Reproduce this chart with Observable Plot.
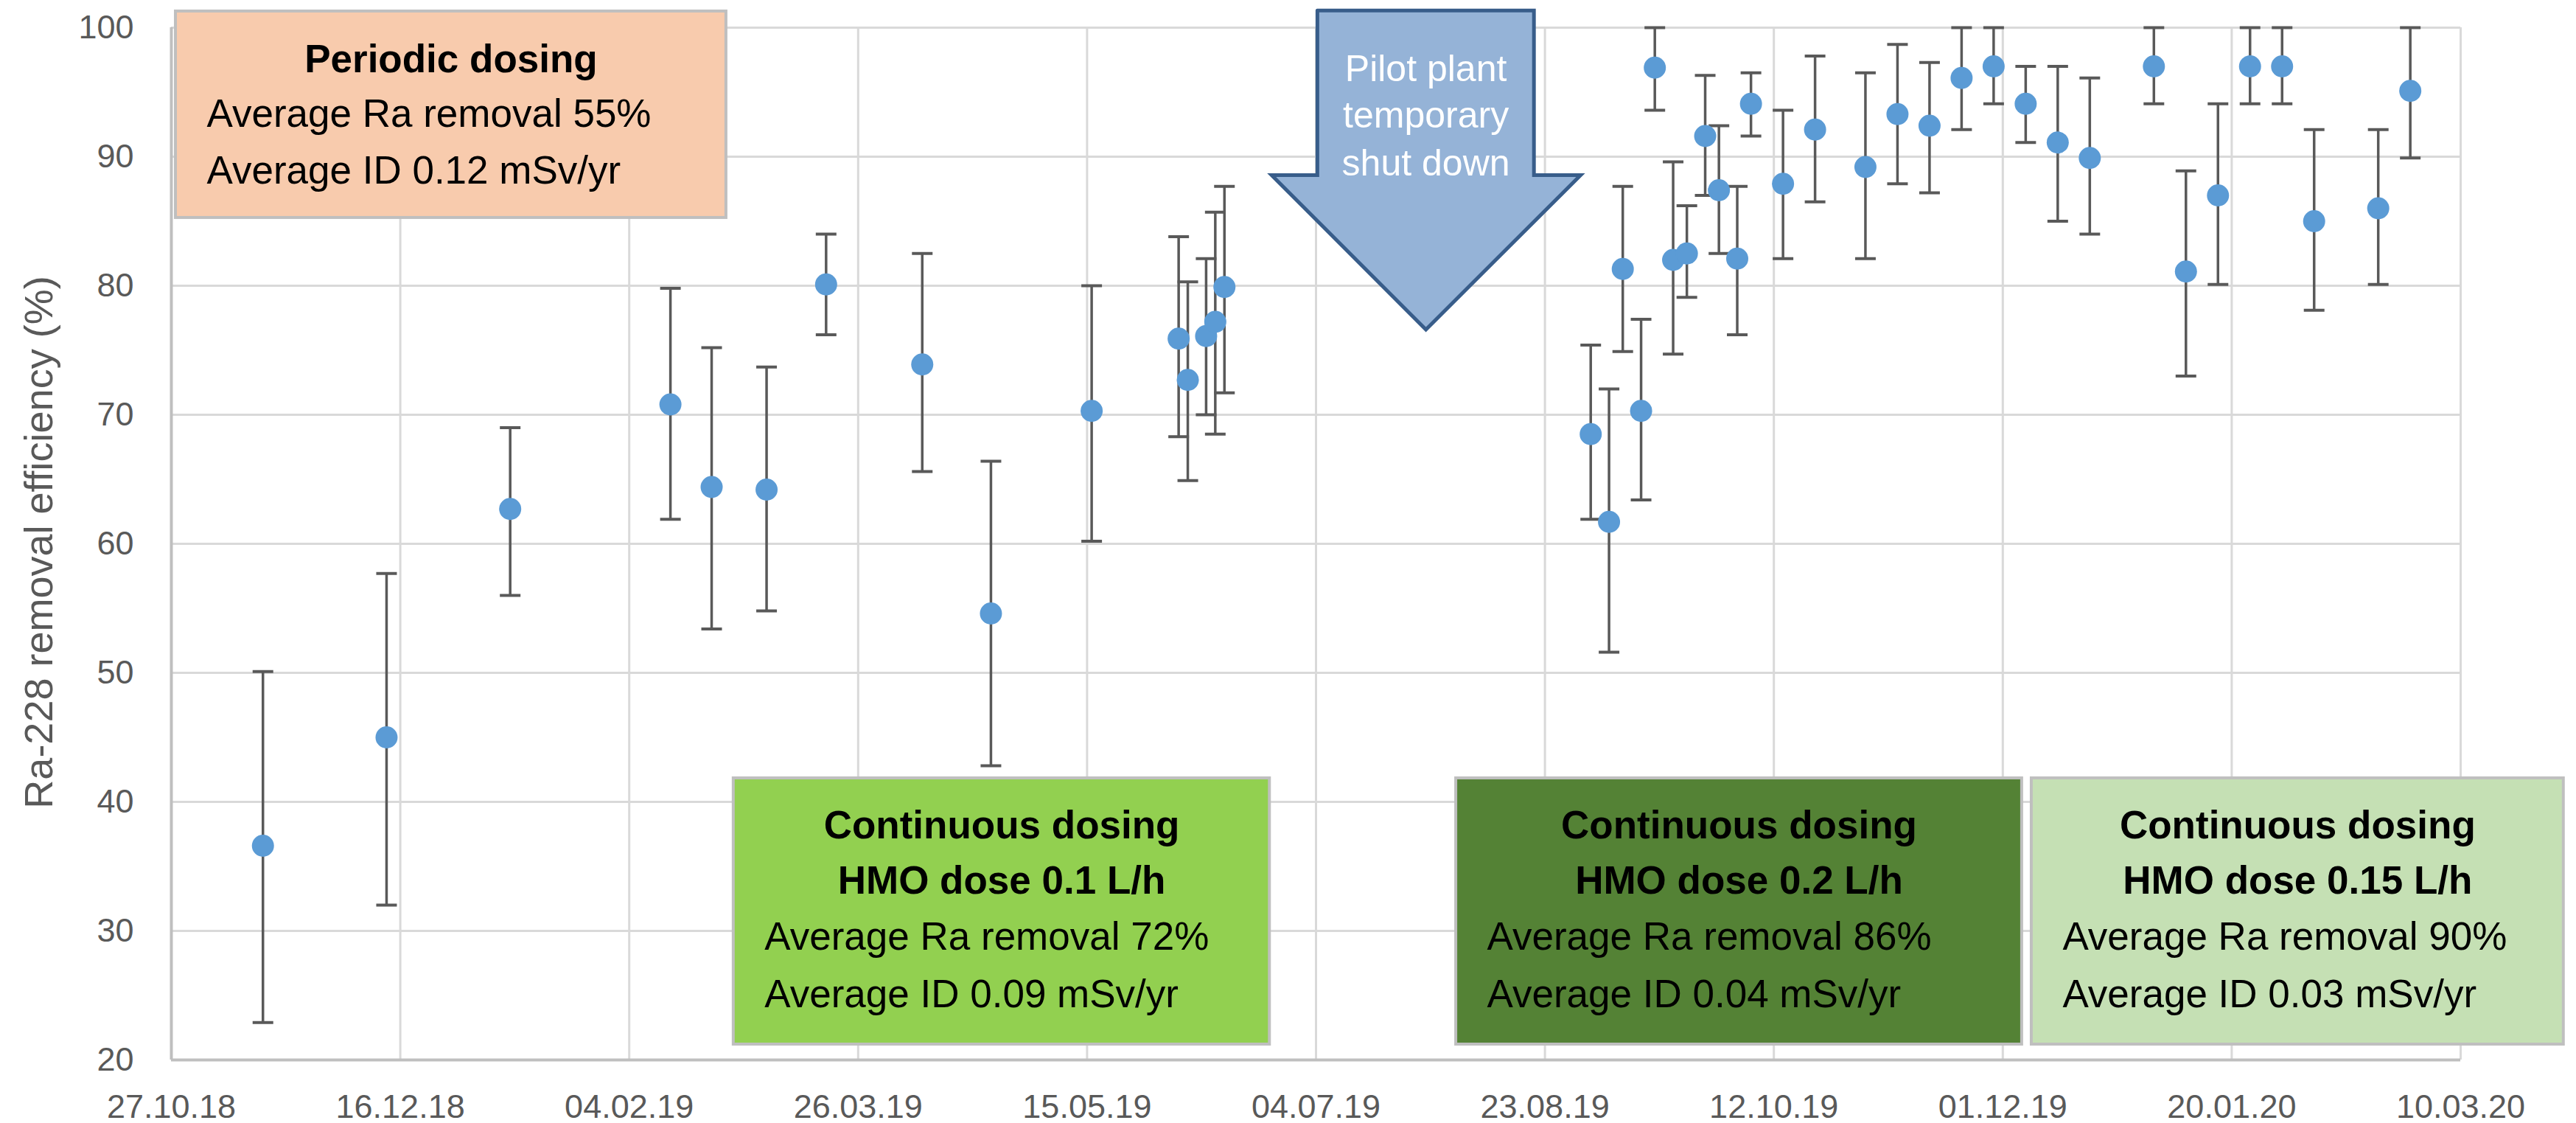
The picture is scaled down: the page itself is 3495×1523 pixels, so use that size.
<!DOCTYPE html>
<html>
<head>
<meta charset="utf-8">
<script src="https://cdn.jsdelivr.net/npm/d3@7"></script>
<script src="https://cdn.jsdelivr.net/npm/@observablehq/plot@0.6"></script>
<style>
  html, body { margin: 0; padding: 0; background: #fff; }
  svg { display: block; }
</style>
</head>
<body>
<div id="chart"></div>
<script>
// ---------------- DATA ----------------
const sampleDates = [
  "2018-11-16","2018-12-13","2019-01-09","2019-02-13","2019-02-22","2019-03-06","2019-03-19",
  "2019-04-09","2019-04-24","2019-05-16","2019-06-04","2019-06-06","2019-06-10","2019-06-12",
  "2019-06-14","2019-09-02","2019-09-06","2019-09-09","2019-09-13","2019-09-16","2019-09-20",
  "2019-09-23","2019-09-27","2019-09-30","2019-10-04","2019-10-07","2019-10-14","2019-10-21",
  "2019-11-01","2019-11-08","2019-11-15","2019-11-22","2019-11-29","2019-12-06","2019-12-13",
  "2019-12-20","2020-01-03","2020-01-10","2020-01-17","2020-01-24","2020-01-31","2020-02-07",
  "2020-02-21","2020-02-28"
];
const removalEfficiency = [
  36.6, 45.0, 62.7, 70.8, 64.4, 64.2, 80.1,
  73.9, 54.6, 70.3, 75.9, 72.7, 76.1, 77.2,
  79.9, 68.5, 61.7, 81.3, 70.3, 96.9, 82.0,
  82.5, 91.6, 87.4, 82.1, 94.1, 87.9, 92.1,
  89.2, 93.3, 92.4, 96.1, 97.0, 94.1, 91.1,
  89.9, 97.0, 81.1, 87.0, 97.0, 97.0, 85.0,
  86.0, 95.1
];
const errorLow = [
  22.9, 32.0, 56.0, 61.9, 53.4, 54.8, 76.2,
  65.6, 42.8, 60.2, 68.3, 64.9, 70.0, 68.5,
  71.7, 61.9, 51.6, 74.9, 63.4, 93.6, 74.7,
  79.1, 87.0, 82.5, 76.2, 91.6, 82.1, 86.5,
  82.1, 87.9, 87.2, 92.1, 94.1, 91.1, 85.0,
  84.0, 94.1, 73.0, 80.1, 94.1, 94.1, 78.1,
  80.1, 89.9
];
const errorHigh = [
  50.1, 57.7, 69.0, 79.8, 75.2, 73.7, 84.0,
  82.5, 66.4, 80.0, 83.8, 80.3, 82.1, 85.7,
  87.7, 75.4, 72.0, 87.7, 77.4, 100, 89.6,
  86.2, 96.3, 92.4, 87.7, 96.5, 93.6, 97.8,
  96.5, 98.7, 97.3, 100, 100, 97.0, 97.0,
  96.1, 100, 88.9, 94.1, 100, 100, 92.1,
  92.1, 100
];
const xTickLabels = ["27.10.18","16.12.18","04.02.19","26.03.19","15.05.19","04.07.19",
                     "23.08.19","12.10.19","01.12.19","20.01.20","10.03.20"];
const yTicks = [20, 30, 40, 50, 60, 70, 80, 90, 100];
const yTitle = "Ra-228 removal efficiency (%)";

const boxTitles = [
  ["Periodic dosing"],
  ["Continuous dosing", "HMO dose 0.1 L/h"],
  ["Continuous dosing", "HMO dose 0.2 L/h"],
  ["Continuous dosing", "HMO dose 0.15 L/h"]
];
const boxRemoval = ["Average Ra removal 55%", "Average Ra removal 72%", "Average Ra removal 86%", "Average Ra removal 90%"];
const boxDose = ["Average ID 0.12 mSv/yr", "Average ID 0.09 mSv/yr", "Average ID 0.04 mSv/yr", "Average ID 0.03 mSv/yr"];
const arrowLabel = ["Pilot plant", "temporary", "shut down"];

// ---------------- LAYOUT (annotation placement, in days from first tick / y values) ----------------
const boxLayout = [
  {d1: 0.97,  d2: 121.2, top: 101.26, bottom: 85.26, fill: "#F8CBAD", titleY: [96.57],        textY: [92.29, 87.89]},
  {d1: 122.8, d2: 239.9, top: 41.83,  bottom: 21.2,  fill: "#92D050", titleY: [37.17, 32.86], textY: [28.55, 24.11]},
  {d1: 280.6, d2: 404.2, top: 41.83,  bottom: 21.2,  fill: "#548235", titleY: [37.17, 32.86], textY: [28.55, 24.11]},
  {d1: 406.3, d2: 522.5, top: 41.83,  bottom: 21.2,  fill: "#C5E0B4", titleY: [37.17, 32.86], textY: [28.55, 24.11]}
];
const arrowShape = [
  [250.3, 101.33], [297.6, 101.33], [297.6, 88.57], [307.8, 88.57],
  [274.0, 76.6], [240.3, 88.57], [250.3, 88.57], [250.3, 101.33]
];
const arrowTextPos = {d: 274.0, y: [95.86, 92.23, 88.57]};

// ---------------- BUILD ----------------
const parseISO = d3.utcParse("%Y-%m-%d");
const parseTick = d3.utcParse("%d.%m.%y");
const tickDates = xTickLabels.map(parseTick);
const day0 = tickDates[0];
const atDay = d => new Date(+day0 + d * 864e5);

const data = sampleDates.map((d, i) => ({
  date: parseISO(d), v: removalEfficiency[i], lo: errorLow[i], hi: errorHigh[i]
}));

const boxes = boxLayout.map((b, i) => ({x1: atDay(b.d1), x2: atDay(b.d2), y1: b.top, y2: b.bottom, fill: b.fill}));
const titleRows = [];
const textRows = [];
boxLayout.forEach((b, i) => {
  const cx = atDay((b.d1 + b.d2) / 2);
  boxTitles[i].forEach((t, j) => titleRows.push({x: cx, y: b.titleY[j], text: t}));
  textRows.push({x: atDay(b.d1), y: b.textY[0], text: boxRemoval[i]});
  textRows.push({x: atDay(b.d1), y: b.textY[1], text: boxDose[i]});
});
const arrowPts = arrowShape.map(([d, y]) => ({x: atDay(d), y}));
const arrowRows = arrowLabel.map((t, i) => ({x: atDay(arrowTextPos.d), y: arrowTextPos.y[i], text: t}));

const capSymbol = {
  draw(ctx, size) {
    const r = Math.sqrt(size / Math.PI);
    ctx.moveTo(-r, 0);
    ctx.lineTo(r, 0);
  }
};

const FONT = "'Liberation Sans', Arial, sans-serif";
const GRID = "#D9D9D9";
const AXIS = "#BFBFBF";
const INK = "#595959";

const chart = Plot.plot({
  width: 3495,
  height: 1523,
  marginLeft: 232,
  marginRight: 157,
  marginTop: 37,
  marginBottom: 86,
  style: {fontFamily: FONT, background: "#fff", overflow: "visible"},
  x: {type: "utc", domain: [tickDates[0], tickDates[tickDates.length - 1]]},
  y: {domain: [20, 100]},
  marks: [
    Plot.gridY(yTicks, {stroke: GRID, strokeOpacity: 1, strokeWidth: 3}),
    Plot.gridX(tickDates, {stroke: GRID, strokeOpacity: 1, strokeWidth: 3}),
    Plot.ruleY([20], {stroke: AXIS, strokeWidth: 4}),
    Plot.ruleX([day0], {stroke: AXIS, strokeWidth: 4}),
    Plot.rect(boxes, {x1: "x1", x2: "x2", y1: "y1", y2: "y2", fill: d => d.fill, stroke: AXIS, strokeWidth: 4}),
    Plot.text(titleRows, {x: "x", y: "y", text: "text", lineAnchor: "bottom", textAnchor: "middle",
      fontSize: 53, fontWeight: "bold", fill: "#000"}),
    Plot.text(textRows, {x: "x", y: "y", text: "text", lineAnchor: "bottom", textAnchor: "start",
      dx: 42, fontSize: 53, fill: "#000"}),
    Plot.line(arrowPts, {x: "x", y: "y", fill: "#95B3D7", stroke: "#385D8A", strokeWidth: 5,
      strokeLinejoin: "miter", strokeMiterlimit: 10, curve: "linear"}),
    Plot.text(arrowRows, {x: "x", y: "y", text: "text", lineAnchor: "bottom", textAnchor: "middle",
      fontSize: 50, fill: "#fff"}),
    Plot.ruleX(data, {x: "date", y1: "lo", y2: "hi", stroke: INK, strokeWidth: 3.5}),
    Plot.dot(data, {x: "date", y: "lo", symbol: capSymbol, r: 14, fill: "none", stroke: INK, strokeWidth: 4}),
    Plot.dot(data, {x: "date", y: "hi", symbol: capSymbol, r: 14, fill: "none", stroke: INK, strokeWidth: 4}),
    Plot.dot(data, {x: "date", y: "v", r: 15, fill: "#5B9BD5", stroke: "none"}),
    Plot.axisX(tickDates, {tickFormat: d3.utcFormat("%d.%m.%y"), tickSize: 0, tickPadding: 47,
      fontSize: 45, color: INK, label: null}),
    Plot.axisY(yTicks, {anchor: "left", tickSize: 0, tickPadding: 51, fontSize: 45, color: INK, label: null}),
    Plot.text([yTitle], {frameAnchor: "left", textAnchor: "middle", rotate: -90, dx: -179, dy: -2,
      fontSize: 54, fill: INK})
  ]
});
document.getElementById("chart").appendChild(chart);
</script>
</body>
</html>
